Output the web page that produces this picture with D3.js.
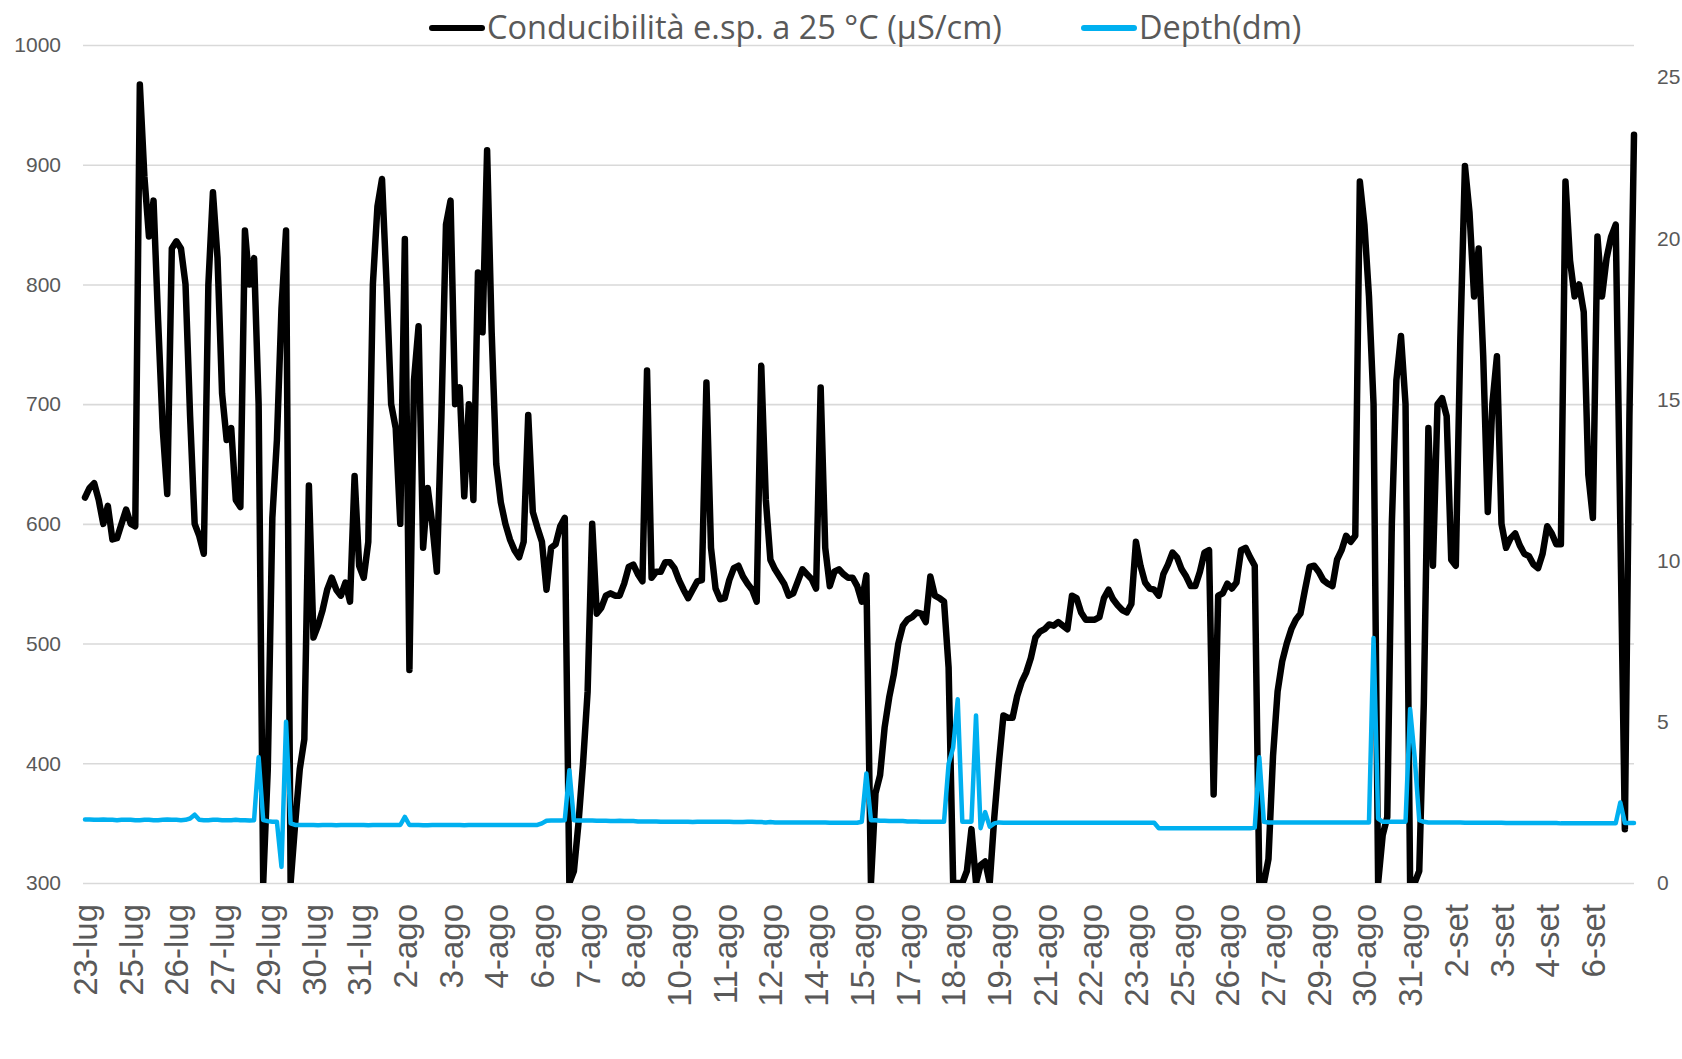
<!DOCTYPE html>
<html>
<head>
<meta charset="utf-8">
<script src="https://cdn.jsdelivr.net/npm/d3@7"></script>
<style>
  body { margin: 0; background: #fff; }
  svg { font-family: "Open Sans", sans-serif; }
  .axis text { fill: #595959; }
  .axis--y .tick line { stroke: #d9d9d9; stroke-width: 1.6px; }
  .legend text { fill: #595959; font-size: 32.5px; }
</style>
</head>
<body>
<svg class="chart" width="1682" height="1059"></svg>
<script>
// series names
var seriesNames = ["Conducibilità e.sp. a 25 °C (µS/cm)", "Depth(dm)"];

// x-axis labels, one every 10 samples
var dateLabels = ["23-lug", "25-lug", "26-lug", "27-lug", "29-lug", "30-lug", "31-lug",
  "2-ago", "3-ago", "4-ago", "6-ago", "7-ago", "8-ago", "10-ago", "11-ago", "12-ago",
  "14-ago", "15-ago", "17-ago", "18-ago", "19-ago", "21-ago", "22-ago", "23-ago",
  "25-ago", "26-ago", "27-ago", "29-ago", "30-ago", "31-ago", "2-set", "3-set", "4-set", "6-set"];
var labelEvery = 10;

// conductivity (µS/cm), left axis
var conductivity = [
  622, 630, 634, 620, 600, 615, 587, 588, 600, 612,
  600, 598, 967, 890, 840, 870, 770, 680, 625, 830,
  836, 830, 800, 690, 600, 590, 575, 800, 877, 822,
  709, 670, 680, 620, 614, 845, 800, 822, 700, 300,
  395, 605, 670, 780, 845, 300, 350, 395, 420, 632,
  505, 515, 528, 545, 555, 545, 540, 551, 535, 640,
  565, 555, 585, 800, 865, 888, 800, 700, 680, 600,
  838, 478, 720, 765, 580, 630, 600, 560, 690, 850,
  870, 700, 714, 623, 700, 620, 810, 760, 912, 760,
  650, 618, 600, 587, 578, 572, 585, 691, 610, 597,
  585, 545, 580, 583, 598, 605, 300, 310, 350, 400,
  460, 600, 525, 530, 540, 542, 540, 540, 550, 564,
  566, 558, 552, 728, 555, 560, 560, 568, 568, 563,
  553, 545, 538, 545, 552, 553, 718, 580, 546, 537,
  538, 553, 563, 565, 556, 550, 545, 535, 732, 620,
  570, 562, 556, 550, 540, 542, 552, 562, 558, 554,
  546, 714, 580, 548, 560, 562, 558, 555, 555, 548,
  535, 557, 300, 375, 390, 430, 455, 474, 500, 515,
  520, 522, 526, 525, 518, 556, 540, 538, 535, 480,
  300, 300, 300, 310, 345, 300, 315, 318, 300, 355,
  400, 440, 438, 438, 456, 468, 476, 488, 505, 510,
  512, 516, 515, 518, 515, 512, 540, 538, 526, 520,
  520, 520, 522, 538, 545, 537, 532, 528, 526, 533,
  585, 565, 551, 546, 545, 540, 558, 566, 576, 572,
  562, 556, 548, 548, 560, 576, 578, 374, 540, 542,
  550, 546, 551, 578, 580, 572, 565, 300, 300, 320,
  406, 460, 485, 500, 512, 520, 525, 545, 564, 565,
  560, 553, 550, 548, 570, 578, 590, 585, 590, 886,
  850, 790, 700, 300, 340, 355, 600, 720, 757, 700,
  300, 300, 310, 450, 680, 565, 700, 705, 690, 570,
  565, 755, 899, 860, 790, 830, 740, 610, 700, 740,
  600, 580, 588, 592, 582, 575, 573, 566, 563, 575,
  598, 592, 583, 583, 886, 820, 790, 800, 777, 641,
  605, 840, 790, 822, 840, 850, 600, 345, 690, 925
];

// depth (dm), right axis
var depth = [
  1.97, 1.97, 1.96, 1.96, 1.97, 1.96, 1.96, 1.95, 1.96, 1.96,
  1.96, 1.95, 1.95, 1.96, 1.96, 1.95, 1.95, 1.96, 1.97, 1.96,
  1.96, 1.95, 1.96, 2.00, 2.12, 1.96, 1.95, 1.95, 1.96, 1.96,
  1.95, 1.95, 1.95, 1.96, 1.95, 1.95, 1.94, 1.95, 3.90, 1.95,
  1.92, 1.90, 1.90, 0.50, 5.00, 1.85, 1.80, 1.80, 1.80, 1.80,
  1.80, 1.79, 1.80, 1.80, 1.80, 1.79, 1.80, 1.80, 1.80, 1.80,
  1.80, 1.80, 1.79, 1.80, 1.80, 1.80, 1.80, 1.80, 1.80, 1.80,
  2.05, 1.80, 1.80, 1.80, 1.79, 1.79, 1.80, 1.80, 1.80, 1.80,
  1.80, 1.80, 1.80, 1.79, 1.80, 1.80, 1.80, 1.80, 1.80, 1.80,
  1.80, 1.80, 1.80, 1.80, 1.80, 1.80, 1.80, 1.80, 1.80, 1.80,
  1.85, 1.93, 1.94, 1.94, 1.94, 1.95, 3.50, 1.95, 1.94, 1.94,
  1.94, 1.94, 1.93, 1.93, 1.93, 1.92, 1.92, 1.93, 1.92, 1.92,
  1.92, 1.91, 1.91, 1.91, 1.91, 1.91, 1.90, 1.90, 1.90, 1.90,
  1.90, 1.90, 1.90, 1.89, 1.90, 1.90, 1.90, 1.90, 1.90, 1.90,
  1.90, 1.90, 1.89, 1.89, 1.89, 1.90, 1.90, 1.89, 1.89, 1.88,
  1.89, 1.88, 1.88, 1.88, 1.88, 1.88, 1.88, 1.88, 1.88, 1.88,
  1.88, 1.88, 1.88, 1.87, 1.87, 1.87, 1.87, 1.87, 1.87, 1.87,
  1.90, 3.40, 1.95, 1.95, 1.93, 1.93, 1.92, 1.92, 1.92, 1.92,
  1.91, 1.91, 1.91, 1.90, 1.90, 1.90, 1.90, 1.90, 1.90, 3.70,
  4.20, 5.70, 1.90, 1.90, 1.90, 5.20, 1.70, 2.20, 1.75, 1.85,
  1.88, 1.87, 1.87, 1.87, 1.87, 1.87, 1.87, 1.87, 1.87, 1.87,
  1.87, 1.87, 1.87, 1.87, 1.87, 1.87, 1.87, 1.87, 1.87, 1.87,
  1.87, 1.87, 1.87, 1.87, 1.87, 1.87, 1.87, 1.87, 1.87, 1.87,
  1.87, 1.87, 1.87, 1.87, 1.87, 1.70, 1.70, 1.70, 1.70, 1.70,
  1.70, 1.70, 1.70, 1.70, 1.70, 1.70, 1.70, 1.70, 1.70, 1.70,
  1.70, 1.70, 1.70, 1.70, 1.70, 1.70, 1.72, 3.90, 1.90, 1.88,
  1.88, 1.88, 1.88, 1.88, 1.88, 1.88, 1.88, 1.88, 1.88, 1.88,
  1.88, 1.88, 1.88, 1.88, 1.88, 1.88, 1.88, 1.88, 1.88, 1.88,
  1.88, 1.88, 7.60, 2.00, 1.90, 1.90, 1.90, 1.90, 1.90, 1.90,
  5.40, 3.90, 1.95, 1.90, 1.88, 1.88, 1.88, 1.88, 1.88, 1.88,
  1.88, 1.88, 1.87, 1.87, 1.87, 1.87, 1.87, 1.87, 1.87, 1.87,
  1.87, 1.86, 1.86, 1.86, 1.86, 1.86, 1.86, 1.86, 1.86, 1.86,
  1.86, 1.86, 1.86, 1.85, 1.85, 1.85, 1.85, 1.85, 1.85, 1.85,
  1.85, 1.85, 1.85, 1.85, 1.85, 1.85, 2.50, 1.86, 1.86, 1.86
];

var leftTicks = [300, 400, 500, 600, 700, 800, 900, 1000];
var rightTicks = [0, 5, 10, 15, 20, 25];

var svg = d3.select("svg.chart"),
    margin = {top: 45, right: 48, bottom: 176, left: 83},
    width = +svg.attr("width") - margin.left - margin.right,
    height = +svg.attr("height") - margin.top - margin.bottom,
    g = svg.append("g").attr("transform", "translate(" + margin.left + "," + margin.top + ")");

var x = d3.scaleLinear()
    .domain([0, conductivity.length - 1])
    .range([2, width]);

var y = d3.scaleLinear()
    .domain([300, 1000])
    .range([height, 0]);

var y2 = d3.scaleLinear()
    .domain([0, 26])
    .range([height, 0]);

// gridlines + left axis
g.append("g")
    .attr("class", "axis axis--y")
    .style("font-size", "21px")
    .call(d3.axisLeft(y).tickValues(leftTicks).tickSize(-width).tickPadding(22).tickFormat(d3.format("d")))
    .call(function (a) { a.select(".domain").remove(); });

// right axis
g.append("g")
    .attr("class", "axis axis--y2")
    .attr("transform", "translate(" + width + ",0)")
    .style("font-size", "21px")
    .call(d3.axisRight(y2).tickValues(rightTicks).tickSize(0).tickPadding(23))
    .call(function (a) { a.select(".domain").remove(); });

// bottom axis with rotated date labels
g.append("g")
    .attr("class", "axis axis--x")
    .attr("transform", "translate(0," + height + ")")
    .style("font-size", "33px")
    .call(d3.axisBottom(x)
      .tickValues(dateLabels.map(function (d, i) { return i * labelEvery; }))
      .tickFormat(function (d) { return dateLabels[d / labelEvery]; })
      .tickSize(0))
    .call(function (a) { a.select(".domain").remove(); })
  .selectAll("text")
    .attr("transform", "rotate(-90)")
    .attr("x", -21)
    .attr("y", 0)
    .attr("dy", "0.35em")
    .style("text-anchor", "end");

svg.append("defs").append("clipPath")
    .attr("id", "plot-clip")
  .append("rect")
    .attr("x", -5)
    .attr("y", -10)
    .attr("width", width + 10)
    .attr("height", height + 10);

var plot = g.append("g").attr("clip-path", "url(#plot-clip)");

var condLine = d3.line()
    .x(function (d, i) { return x(i); })
    .y(function (d) { return y(d); });

var depthLine = d3.line()
    .x(function (d, i) { return x(i); })
    .y(function (d) { return y2(d); });

plot.append("path")
    .datum(conductivity)
    .attr("fill", "none")
    .attr("stroke", "#000")
    .attr("stroke-width", 6.5)
    .attr("stroke-linejoin", "round")
    .attr("stroke-linecap", "round")
    .attr("d", condLine);

plot.append("path")
    .datum(depth)
    .attr("fill", "none")
    .attr("stroke", "#00b0f0")
    .attr("stroke-width", 4.5)
    .attr("stroke-linejoin", "round")
    .attr("stroke-linecap", "round")
    .attr("d", depthLine);

// legend
var legend = svg.append("g").attr("class", "legend");
var legendItems = [
  {name: seriesNames[0], color: "#000", x: 429},
  {name: seriesNames[1], color: "#00b0f0", x: 1081}
];
legendItems.forEach(function (item) {
  legend.append("line")
      .attr("x1", item.x + 3)
      .attr("x2", item.x + 53)
      .attr("y1", 28)
      .attr("y2", 28)
      .attr("stroke", item.color)
      .attr("stroke-width", 6)
      .attr("stroke-linecap", "round");
  legend.append("text")
      .attr("x", item.x + 58)
      .attr("y", 28)
      .attr("dy", "0.35em")
      .text(item.name);
});
</script>
</body>
</html>
